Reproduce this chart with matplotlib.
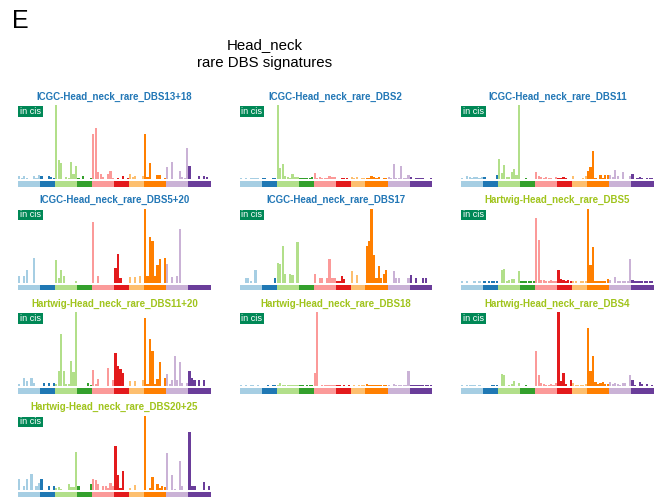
import matplotlib
matplotlib.use("Agg")
import matplotlib.pyplot as plt
from matplotlib.patches import Rectangle
import numpy as np

plt.rcParams["font.family"] = ["Liberation Sans", "DejaVu Sans"]

# DBS channel groups (78 channels in total)
group_names = ["AC>NN", "AT>NN", "CC>NN", "CG>NN", "CT>NN",
               "GC>NN", "TA>NN", "TC>NN", "TG>NN", "TT>NN"]
group_sizes = [9, 6, 9, 6, 9, 6, 6, 9, 9, 9]
group_colors = ["#a6cee3", "#1f78b4", "#b2df8a", "#33a02c", "#fb9a99",
                "#e31a1c", "#fdbf6f", "#ff7f00", "#cab2d6", "#6a3d9a"]

# Signature profiles (relative weights per channel, AC>NN ... TT>NN)
icgc_dbs13_18 = [8, 2, 8, 2, 0, 0, 8, 2, 11,
                 8, 0, 0, 8, 5, 2,
                 221, 56, 48, 0, 5, 3, 50, 16, 38,
                 2, 0, 8, 0, 0, 2,
                 134, 152, 21, 16, 5, 0, 16, 24, 3,
                 0, 2, 0, 8, 0, 2,
                 14, 7, 8, 0, 0, 8,
                 134, 6, 48, 0, 0, 11, 11, 0, 2,
                 35, 0, 50, 0, 0, 24, 5, 3, 92,
                 38, 0, 0, 0, 8, 0, 8, 5, 0]
icgc_dbs2 = [3, 0, 3, 0, 3, 3, 3, 3, 0,
             3, 3, 0, 0, 3, 3,
             222, 32, 45, 10, 5, 3, 14, 6, 6,
             3, 3, 3, 3, 3, 6,
             18, 3, 6, 3, 3, 3, 9, 6, 6,
             0, 0, 3, 3, 3, 0,
             5, 3, 5, 0, 3, 3,
             3, 3, 9, 6, 4, 6, 0, 3, 3,
             6, 3, 45, 3, 3, 39, 3, 3, 12,
             6, 0, 3, 3, 3, 3, 0, 0, 3]
icgc_dbs11 = [3, 0, 9, 6, 3, 5, 5, 3, 5,
              6, 0, 0, 0, 0, 12,
              61, 17, 41, 6, 5, 22, 30, 12, 222,
              0, 0, 3, 0, 0, 0,
              22, 9, 6, 3, 5, 3, 3, 0, 6,
              3, 4, 6, 3, 0, 0,
              9, 0, 0, 0, 3, 9,
              25, 35, 85, 3, 0, 12, 3, 12, 12,
              12, 6, 27, 9, 0, 21, 0, 0, 9,
              14, 0, 3, 6, 3, 0, 3, 3, 3]
icgc_dbs5_20 = [18, 0, 18, 36, 0, 0, 72, 0, 0,
                0, 0, 0, 0, 0, 0,
                66, 13, 36, 18, 0, 0, 0, 0, 3,
                0, 0, 0, 0, 0, 0,
                180, 0, 18, 0, 0, 0, 0, 0, 0,
                42, 84, 12, 0, 0, 0,
                15, 0, 15, 0, 18, 0,
                219, 18, 135, 123, 18, 51, 69, 0, 72,
                54, 0, 15, 0, 18, 159, 0, 0, 0,
                0, 0, 0, 0, 0, 0, 0, 0, 0]
icgc_dbs17 = [0, 0, 12, 12, 4, 0, 37, 0, 0,
              0, 0, 0, 0, 0, 12,
              58, 55, 109, 25, 0, 25, 22, 0, 121,
              0, 0, 0, 0, 0, 0,
              25, 0, 12, 12, 0, 12, 70, 12, 12,
              3, 4, 19, 9, 0, 0,
              34, 0, 22, 0, 0, 0,
              110, 122, 220, 82, 13, 49, 13, 25, 37,
              0, 0, 34, 13, 13, 0, 0, 0, 13,
              22, 0, 13, 0, 0, 13, 13, 0, 0]
hartwig_dbs5 = [3, 0, 3, 0, 0, 3, 0, 3, 0,
                3, 0, 3, 3, 3, 3,
                0, 38, 41, 5, 8, 10, 11, 0, 35,
                3, 3, 3, 3, 3, 3,
                189, 125, 8, 8, 3, 3, 7, 3, 5,
                38, 10, 7, 3, 7, 3,
                5, 3, 0, 3, 3, 3,
                218, 53, 104, 5, 5, 3, 3, 3, 11,
                8, 0, 17, 3, 3, 5, 3, 3, 68,
                8, 3, 3, 3, 3, 3, 3, 3, 3]
hartwig_dbs11_20 = [5, 0, 23, 15, 0, 23, 8, 0, 0,
                    0, 8, 0, 8, 0, 8,
                    5, 45, 155, 44, 5, 5, 74, 41, 221,
                    0, 0, 0, 0, 8, 3,
                    47, 5, 20, 0, 0, 0, 53, 0, 17,
                    98, 59, 50, 38, 0, 0,
                    14, 0, 14, 0, 0, 17,
                    203, 5, 140, 104, 5, 20, 71, 0, 23,
                    35, 5, 17, 89, 17, 71, 9, 0, 9,
                    44, 23, 17, 0, 17, 0, 17, 0, 0]
hartwig_dbs18 = [3, 0, 3, 0, 3, 3, 0, 3, 0,
                 0, 0, 3, 0, 3, 3,
                 3, 10, 3, 3, 3, 3, 3, 3, 3,
                 3, 3, 0, 3, 3, 3,
                 40, 220, 0, 3, 3, 3, 3, 3, 3,
                 3, 3, 0, 3, 0, 3,
                 0, 3, 0, 3, 3, 3,
                 7, 3, 4, 3, 3, 3, 3, 3, 3,
                 3, 0, 7, 3, 3, 3, 3, 3, 46,
                 4, 3, 3, 3, 3, 3, 3, 3, 3]
hartwig_dbs4 = [3, 0, 4, 3, 3, 3, 0, 3, 0,
                0, 0, 0, 3, 3, 4,
                0, 35, 32, 0, 4, 5, 14, 0, 8,
                0, 0, 3, 0, 0, 0,
                104, 32, 8, 5, 3, 3, 5, 4, 8,
                221, 14, 38, 5, 0, 17,
                8, 3, 3, 3, 3, 5,
                173, 44, 89, 11, 5, 8, 11, 5, 5,
                11, 5, 8, 5, 3, 8, 8, 0, 32,
                17, 3, 0, 11, 5, 0, 5, 0, 3]
hartwig_dbs20_25 = [33, 0, 12, 33, 0, 48, 0, 12, 21,
                    33, 0, 0, 12, 0, 12,
                    4, 9, 3, 0, 0, 18, 9, 9, 114,
                    12, 0, 0, 0, 0, 18,
                    33, 30, 18, 0, 12, 12, 6, 21, 12,
                    132, 45, 6, 57, 0, 0,
                    6, 0, 15, 0, 0, 0,
                    222, 0, 6, 39, 0, 18, 6, 12, 9,
                    111, 0, 45, 3, 0, 87, 12, 0, 0,
                    174, 12, 12, 0, 0, 0, 24, 0, 12]

panel_titles = ["ICGC-Head_neck_rare_DBS13+18", "ICGC-Head_neck_rare_DBS2",
                "ICGC-Head_neck_rare_DBS11", "ICGC-Head_neck_rare_DBS5+20",
                "ICGC-Head_neck_rare_DBS17", "Hartwig-Head_neck_rare_DBS5",
                "Hartwig-Head_neck_rare_DBS11+20", "Hartwig-Head_neck_rare_DBS18",
                "Hartwig-Head_neck_rare_DBS4", "Hartwig-Head_neck_rare_DBS20+25"]
panel_values = [icgc_dbs13_18, icgc_dbs2, icgc_dbs11, icgc_dbs5_20, icgc_dbs17,
                hartwig_dbs5, hartwig_dbs11_20, hartwig_dbs18, hartwig_dbs4,
                hartwig_dbs20_25]

cohort_colors = {"ICGC": "#2277b6", "Hartwig": "#a0c41c"}
cis_color = "#008856"

W, H = 662, 497
fig = plt.figure(figsize=(W / 100, H / 100), dpi=100)


def add_px_axes(x, y_top, w, h):
    return fig.add_axes([x / W, 1 - (y_top + h) / H, w / W, h / H])


# channel colors
channel_colors = np.repeat(group_colors, group_sizes)
group_starts = np.concatenate([[0], np.cumsum(group_sizes)[:-1]]) - 0.5

col_x = [18, 239.5, 461]
panel_w = 192.5
row_top = [105, 208.5, 312, 415.5]
bar_h = 74
strip_gap = 2
strip_h = 5.5

for k, (title, vals) in enumerate(zip(panel_titles, panel_values)):
    r, c = divmod(k, 3)
    x0, y0 = col_x[c], row_top[r]
    ax = add_px_axes(x0, y0, panel_w, bar_h)
    ax.bar(np.arange(len(vals)), vals, width=0.88, color=channel_colors,
           linewidth=0)
    ax.set_xlim(-0.5, len(vals) - 0.5)
    ax.set_ylim(0, max(vals))
    ax.axis("off")

    sax = add_px_axes(x0, y0 + bar_h + strip_gap, panel_w, strip_h)
    sax.bar(group_starts, 1, width=group_sizes, align="edge",
            color=group_colors, linewidth=0)
    sax.set_xlim(-0.5, len(vals) - 0.5)
    sax.set_ylim(0, 1)
    sax.axis("off")

    cohort = title.split("-")[0]
    fig.text((x0 + panel_w / 2) / W, 1 - (y0 - 8.5) / H, title,
             ha="center", va="center", fontsize=7, fontweight="bold",
             color=cohort_colors[cohort])

    # "in cis" tag in the upper-left corner of each panel
    bw, bh = 24.7, 10.5
    fig.patches.append(Rectangle((x0 / W, 1 - (y0 + 1 + bh) / H), bw / W, bh / H,
                                 transform=fig.transFigure, facecolor=cis_color,
                                 edgecolor="none"))
    fig.text((x0 + bw / 2) / W, 1 - (y0 + 1 + bh / 2) / H, "in cis",
             ha="center", va="center", fontsize=6.6, color="white")

fig.text(12 / W, 1 - 21 / H, "E", ha="left", va="center", fontsize=18)
fig.text(265 / W, 1 - 45 / H, "Head_neck", ha="center", va="center", fontsize=10.8)
fig.text(265 / W, 1 - 63 / H, "rare DBS signatures", ha="center", va="center",
         fontsize=10.8)

fig.savefig("out.png", dpi=100)
